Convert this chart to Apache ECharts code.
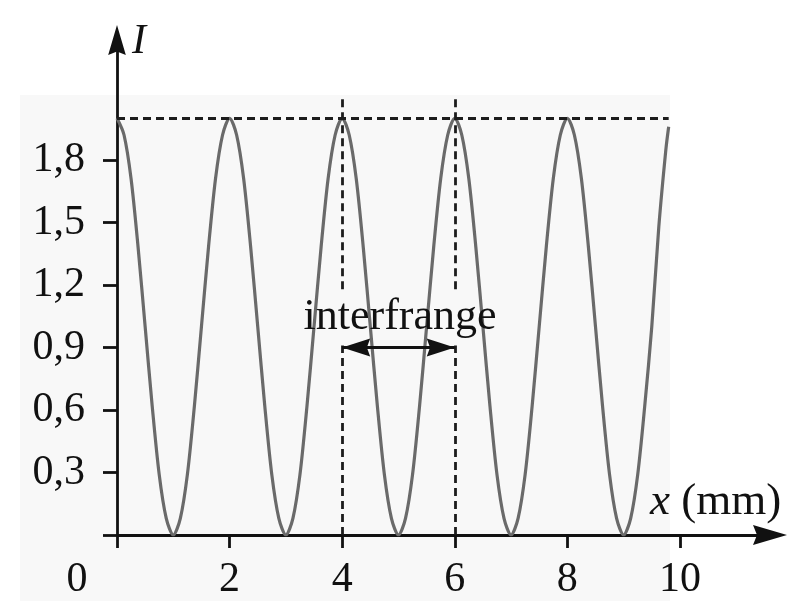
<!DOCTYPE html>
<html>
<head>
<meta charset="utf-8">
<script src="https://cdn.jsdelivr.net/npm/echarts@6/dist/echarts.min.js"></script>
<style>
  html, body { margin: 0; padding: 0; background: #ffffff; }
  #chart { width: 798px; height: 601px; }
</style>
</head>
<body>
<div id="chart"></div>
<script>
// x positions (mm)
var xPositions = [
  0, 0.125, 0.25, 0.375, 0.5, 0.625, 0.75, 0.875,
  1, 1.125, 1.25, 1.375, 1.5, 1.625, 1.75, 1.875,
  2, 2.125, 2.25, 2.375, 2.5, 2.625, 2.75, 2.875,
  3, 3.125, 3.25, 3.375, 3.5, 3.625, 3.75, 3.875,
  4, 4.125, 4.25, 4.375, 4.5, 4.625, 4.75, 4.875,
  5, 5.125, 5.25, 5.375, 5.5, 5.625, 5.75, 5.875,
  6, 6.125, 6.25, 6.375, 6.5, 6.625, 6.75, 6.875,
  7, 7.125, 7.25, 7.375, 7.5, 7.625, 7.75, 7.875,
  8, 8.125, 8.25, 8.375, 8.5, 8.625, 8.75, 8.875,
  9, 9.125, 9.25, 9.375, 9.5, 9.625, 9.75, 9.8
];
var intensity = [
  2.00, 1.92, 1.71, 1.38, 1.00, 0.62, 0.29, 0.08,
  0.00, 0.08, 0.29, 0.62, 1.00, 1.38, 1.71, 1.92,
  2.00, 1.92, 1.71, 1.38, 1.00, 0.62, 0.29, 0.08,
  0.00, 0.08, 0.29, 0.62, 1.00, 1.38, 1.71, 1.92,
  2.00, 1.92, 1.71, 1.38, 1.00, 0.62, 0.29, 0.08,
  0.00, 0.08, 0.29, 0.62, 1.00, 1.38, 1.71, 1.92,
  2.00, 1.92, 1.71, 1.38, 1.00, 0.62, 0.29, 0.08,
  0.00, 0.08, 0.29, 0.62, 1.00, 1.38, 1.71, 1.92,
  2.00, 1.92, 1.71, 1.38, 1.00, 0.62, 0.29, 0.08,
  0.00, 0.08, 0.29, 0.62, 1.00, 1.48, 1.85, 1.96
];
var xTickLabels = [0, 2, 4, 6, 8, 10];
var yTickLabels = [0.3, 0.6, 0.9, 1.2, 1.5, 1.8];
var yTicks = [0, 0.3, 0.6, 0.9, 1.2, 1.5, 1.8];
var maxIntensity = 2;
var maxLineEnd = 9.8;
var fringeMarks = [4, 6];
var fringeArrowLevel = 0.9;
var dashTop = 2.1;
var gapLow = 0.91, gapHigh = 1.18;

var SERIF = '"Liberation Serif", "DejaVu Serif", serif';
var INK = '#111111';
var ARROW = 'path://M10,0 L20,34 L10,30 L0,34 Z';

var curve = xPositions.map(function (x, i) { return [x, intensity[i]]; });

var dashLines = [
  [{ coord: [0, maxIntensity] }, { coord: [maxLineEnd, maxIntensity] }]
];
fringeMarks.forEach(function (f) {
  dashLines.push([{ coord: [f, 0] }, { coord: [f, gapLow] }]);
  dashLines.push([{ coord: [f, gapHigh] }, { coord: [f, dashTop] }]);
});

var chart = echarts.init(document.getElementById('chart'), null, { renderer: 'canvas' });
chart.setOption({
  backgroundColor: '#ffffff',
  animation: false,
  grid: { left: 117, top: 40, width: 653, height: 495, containLabel: false },
  xAxis: {
    type: 'value', min: 0, max: 11.6,
    splitLine: { show: false },
    axisLine: { show: true, onZero: false, lineStyle: { color: INK, width: 2.8 },
      symbol: ['none', ARROW], symbolSize: [20, 34] },
    axisTick: { show: true, inside: false, length: 13, customValues: xTickLabels,
      lineStyle: { color: INK, width: 2.8 } },
    axisLabel: {
      customValues: xTickLabels, margin: 24, color: INK,
      fontFamily: SERIF, fontSize: 42,
      formatter: function (v) { return v === 0 ? '{o|0}' : String(v); },
      rich: { o: { fontFamily: SERIF, fontSize: 42, color: INK, padding: [0, 80, 0, 0] } }
    }
  },
  yAxis: {
    type: 'value', min: 0, max: 2.376,
    name: 'I', nameLocation: 'end', nameGap: -2,
    nameTextStyle: { fontFamily: SERIF, fontStyle: 'italic', fontSize: 42, color: INK,
      align: 'left', verticalAlign: 'middle', padding: [0, 0, 0, 15] },
    splitLine: { show: false },
    axisLine: { show: true, onZero: false, lineStyle: { color: INK, width: 2.8 },
      symbol: ['none', ARROW], symbolSize: [19, 30] },
    axisTick: { show: true, inside: false, length: 14, customValues: yTicks,
      lineStyle: { color: INK, width: 2.8 } },
    axisLabel: {
      customValues: yTickLabels, margin: 32, color: INK,
      fontFamily: SERIF, fontSize: 42,
      formatter: function (v) { return v.toFixed(1).replace('.', ','); }
    }
  },
  series: [
    {
      type: 'line', data: curve, smooth: 0.3, showSymbol: false, z: 3,
      lineStyle: { color: '#6a6a6a', width: 3.2 },
      markLine: {
        silent: true, symbol: 'none', animation: false,
        label: { show: false },
        lineStyle: { color: '#1c1c1c', width: 2.8, type: [8, 5] },
        data: dashLines
      }
    },
    {
      type: 'line', data: [], z: 4,
      markLine: {
        silent: true, animation: false,
        symbol: [ARROW, ARROW], symbolSize: [18, 28],
        symbolOffset: [[0, 14], [0, 14]],
        label: { show: false },
        lineStyle: { color: '#111', width: 2.8, type: 'solid' },
        data: [[{ coord: [fringeMarks[0], fringeArrowLevel] }, { coord: [fringeMarks[1], fringeArrowLevel] }]]
      }
    }
  ],
  graphic: [
    { type: 'rect', z: -10, silent: true, shape: { x: 20, y: 95, width: 650, height: 506 },
      style: { fill: '#f8f8f8' } },
    { type: 'text', z: 10, x: 400, y: 317,
      style: { text: 'interfrange', fontFamily: SERIF, fontSize: 44, fill: INK,
        align: 'center', verticalAlign: 'middle' } },
    { type: 'text', z: 10, x: 650, y: 502,
      style: { text: '{i|x} (mm)', fontFamily: SERIF, fontSize: 45, fill: INK,
        align: 'left', verticalAlign: 'middle',
        rich: { i: { fontFamily: SERIF, fontStyle: 'italic', fontSize: 45, fill: INK } } } }
  ]
});
</script>
</body>
</html>
